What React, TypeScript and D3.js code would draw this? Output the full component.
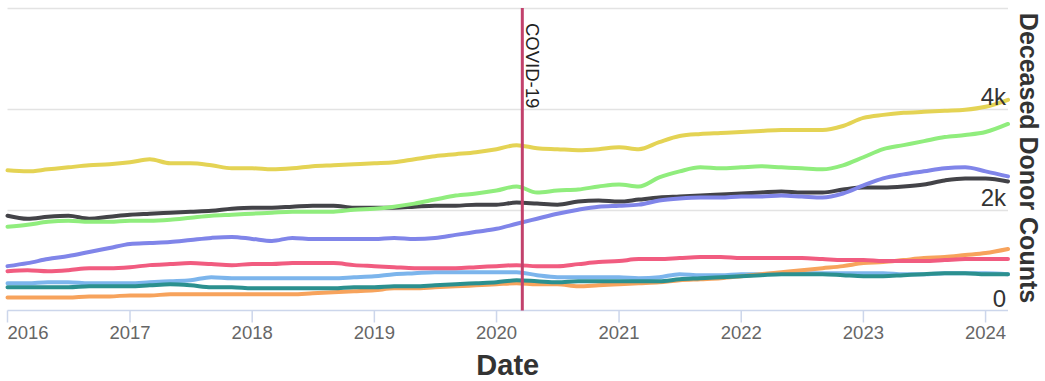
import React from "react";
import * as d3 from "d3";

// Sample dates (every two months, last point is the final reading)
const dates = [
  "2016-01-01", "2016-03-01", "2016-05-01", "2016-07-01", "2016-09-01", "2016-11-01",
  "2017-01-01", "2017-03-01", "2017-05-01", "2017-07-01", "2017-09-01", "2017-11-01",
  "2018-01-01", "2018-03-01", "2018-05-01", "2018-07-01", "2018-09-01", "2018-11-01",
  "2019-01-01", "2019-03-01", "2019-05-01", "2019-07-01", "2019-09-01", "2019-11-01",
  "2020-01-01", "2020-03-01", "2020-05-01", "2020-07-01", "2020-09-01", "2020-11-01",
  "2021-01-01", "2021-03-01", "2021-05-01", "2021-07-01", "2021-09-01", "2021-11-01",
  "2022-01-01", "2022-03-01", "2022-05-01", "2022-07-01", "2022-09-01", "2022-11-01",
  "2023-01-01", "2023-03-01", "2023-05-01", "2023-07-01", "2023-09-01", "2023-11-01",
  "2024-01-01", "2024-03-08",
];

const groupA = [
  540, 540, 560, 560, 540, 540, 540, 560, 580, 600, 660, 640, 640, 640, 640, 640, 640, 660,
  680, 720, 740, 760, 760, 760, 760, 760, 700, 660, 660, 660, 660, 640, 660, 720, 700, 700,
  720, 720, 740, 740, 740, 740, 740, 740, 720, 720, 740, 740, 740, 720,
];
const groupB = [
  1880, 1820, 1860, 1880, 1820, 1860, 1900, 1920, 1940, 1960, 1980, 2020, 2040, 2040, 2060,
  2080, 2080, 2040, 2040, 2040, 2060, 2080, 2080, 2100, 2100, 2140, 2120, 2100, 2160, 2180,
  2160, 2200, 2240, 2260, 2280, 2300, 2320, 2340, 2360, 2340, 2340, 2400, 2440, 2440, 2460,
  2500, 2580, 2620, 2620, 2560,
];
const groupC = [
  1660, 1700, 1760, 1780, 1760, 1760, 1780, 1780, 1800, 1840, 1880, 1900, 1920, 1940, 1960,
  1960, 1960, 2000, 2020, 2060, 2120, 2200, 2280, 2320, 2380, 2460, 2340, 2380, 2400, 2460,
  2500, 2460, 2640, 2760, 2840, 2820, 2840, 2860, 2840, 2820, 2800, 2880, 3040, 3200, 3280,
  3360, 3440, 3480, 3540, 3700,
];
const groupD = [
  260, 260, 260, 260, 280, 280, 300, 300, 320, 320, 320, 320, 320, 320, 320, 340, 360, 380,
  400, 440, 440, 460, 480, 500, 520, 540, 520, 520, 480, 500, 520, 540, 560, 600, 620, 640,
  680, 720, 760, 800, 840, 880, 940, 960, 1000, 1040, 1060, 1100, 1140, 1220,
];
const groupE = [
  880, 940, 1020, 1080, 1160, 1240, 1320, 1340, 1360, 1400, 1440, 1460, 1420, 1380, 1440,
  1420, 1420, 1420, 1420, 1440, 1420, 1440, 1500, 1560, 1620, 1720, 1820, 1920, 2000, 2060,
  2080, 2100, 2180, 2220, 2240, 2240, 2260, 2260, 2280, 2260, 2240, 2320, 2480, 2620, 2700,
  2760, 2820, 2840, 2760, 2660,
];
const groupF = [
  780, 800, 780, 800, 840, 840, 860, 900, 920, 940, 920, 900, 920, 920, 940, 940, 940, 900,
  880, 860, 840, 840, 840, 860, 880, 900, 880, 880, 920, 960, 980, 1020, 1020, 1040, 1060,
  1060, 1040, 1040, 1040, 1040, 1020, 1000, 1000, 980, 980, 980, 1000, 1020, 1020, 1020,
];
const groupG = [
  2780, 2760, 2800, 2840, 2880, 2900, 2940, 3000, 2920, 2920, 2880, 2820, 2820, 2800, 2820,
  2860, 2880, 2900, 2920, 2940, 3000, 3060, 3100, 3140, 3200, 3280, 3220, 3200, 3180, 3200,
  3240, 3200, 3340, 3460, 3500, 3520, 3540, 3560, 3580, 3580, 3580, 3660, 3820, 3880, 3920,
  3940, 3960, 3980, 4040, 4180,
];
const groupH = [
  460, 460, 460, 460, 480, 480, 480, 500, 520, 500, 460, 460, 440, 440, 440, 440, 440, 460,
  460, 480, 480, 500, 520, 540, 560, 600, 580, 560, 580, 580, 580, 580, 580, 620, 640, 660,
  680, 700, 720, 720, 720, 700, 680, 680, 700, 720, 740, 740, 720, 720,
];

// Drawing order follows the palette order
const seriesList = [
  { name: "A", color: "#7cb5ec", values: groupA },
  { name: "B", color: "#434348", values: groupB },
  { name: "C", color: "#90ed7d", values: groupC },
  { name: "D", color: "#f7a35c", values: groupD },
  { name: "E", color: "#8085e9", values: groupE },
  { name: "F", color: "#f15c80", values: groupF },
  { name: "G", color: "#e4d354", values: groupG },
  { name: "H", color: "#2b908f", values: groupH },
];

const yTicks = [0, 2000, 4000];
const yGrid = [2000, 4000, 6000];
const yTickLabels = ["0", "2k", "4k"];
const xTickYears = [2016, 2017, 2018, 2019, 2020, 2021, 2022, 2023, 2024];
const covidDate = "2020-03-18";
const covidLabel = "COVID-19";

const W = 1045;
const H = 381;
const FONT = "'Liberation Sans', Arial, Helvetica, sans-serif";

export default function App() {
  const parse = d3.utcParse("%Y-%m-%d");
  const parsed = dates.map((d) => parse(d) as Date);

  const left = 7.5;
  const right = 1008;
  const top = 8;
  const bottom = 310.5;

  const x = d3
    .scaleUtc()
    .domain([parse("2016-01-01") as Date, parse("2024-03-08") as Date])
    .range([left, right]);
  const y = d3.scaleLinear().domain([0, 6000]).range([bottom, top]);

  const line = d3
    .line<[Date, number]>()
    .x((d) => x(d[0]))
    .y((d) => y(d[1]))
    .curve(d3.curveMonotoneX);

  const covidX = x(parse(covidDate) as Date);

  return (
    <svg
      width={W}
      height={H}
      style={{ position: "absolute", left: 0, top: 0, background: "#fff" }}
      fontFamily={FONT}
    >
      <rect width={W} height={H} fill="#fff" />
      {/* horizontal grid */}
      {yGrid.map((v) => (
        <line
          key={v}
          x1={left}
          x2={right}
          y1={Math.round(y(v)) + 0.5}
          y2={Math.round(y(v)) + 0.5}
          stroke="#e3e3e3"
          strokeWidth={1.5}
        />
      ))}
      {/* x axis */}
      <line x1={left} x2={right} y1={bottom} y2={bottom} stroke="#ccd6eb" strokeWidth={1.5} />
      {xTickYears.map((yr, i) => {
        const tx = x(new Date(Date.UTC(yr, 0, 1)));
        return (
          <g key={yr}>
            <line x1={tx} x2={tx} y1={bottom} y2={bottom + 12} stroke="#ccd6eb" strokeWidth={1.5} />
            <text
              x={tx}
              y={339}
              textAnchor={i === 0 ? "start" : "middle"}
              fontSize={18.5}
              fill="#666"
            >
              {yr}
            </text>
          </g>
        );
      })}
      {/* series */}
      {seriesList.map((s) => (
        <path
          key={s.name}
          d={line(parsed.map((d, i) => [d, s.values[i]] as [Date, number])) || ""}
          fill="none"
          stroke={s.color}
          strokeWidth={4}
          strokeLinejoin="round"
          strokeLinecap="round"
        />
      ))}
      {/* COVID marker */}
      <line x1={covidX} x2={covidX} y1={top} y2={bottom} stroke="#c2416c" strokeWidth={3} />
      <text
        transform={`translate(${covidX + 4},23) rotate(90)`}
        fontSize={18.5}
        fill="#222"
      >
        {covidLabel}
      </text>
      {/* y tick labels */}
      {yTicks.map((v, i) => (
        <text key={v} x={1006} y={y(v) - 4} textAnchor="end" fontSize={24} fill="#333">
          {yTickLabels[i]}
        </text>
      ))}
      {/* axis titles */}
      <text
        transform="translate(1020,158) rotate(90)"
        textAnchor="middle"
        fontSize={25}
        fontWeight="bold"
        fill="#333"
      >
        Deceased Donor Counts
      </text>
      <text x={(left + right) / 2} y={374.5} textAnchor="middle" fontSize={29} fontWeight="bold" fill="#333">
        Date
      </text>
    </svg>
  );
}
